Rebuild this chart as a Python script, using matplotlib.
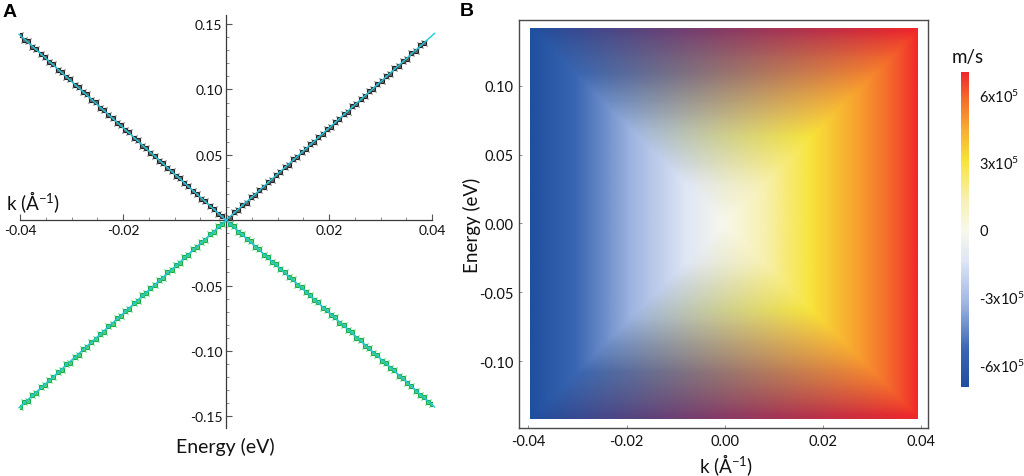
import numpy as np
import matplotlib
matplotlib.use("Agg")
import matplotlib.pyplot as plt
from matplotlib.colors import LinearSegmentedColormap, Normalize
from matplotlib.cm import ScalarMappable
from matplotlib.ticker import MultipleLocator, FuncFormatter, FixedLocator

plt.rcParams['font.family'] = ['Lato', 'DejaVu Sans']
plt.rcParams['mathtext.fontset'] = 'custom'
plt.rcParams['mathtext.rm'] = 'Lato'
plt.rcParams['mathtext.it'] = 'Lato:italic'
plt.rcParams['mathtext.bf'] = 'Lato:bold'

# ---------------- Panel A data (|k| grid in 1/Å, Energy in eV) ----------------
abs_k = [0.0400, 0.0392, 0.0385, 0.0377, 0.0368, 0.0360, 0.0352, 0.0344, 0.0335, 0.0327,
         0.0319, 0.0311, 0.0303, 0.0294, 0.0286, 0.0278, 0.0270, 0.0262, 0.0253, 0.0245,
         0.0237, 0.0229, 0.0220, 0.0212, 0.0204, 0.0196, 0.0188, 0.0179, 0.0171, 0.0163,
         0.0155, 0.0147, 0.0138, 0.0130, 0.0122, 0.0114, 0.0105, 0.0097, 0.0089, 0.0081,
         0.0073, 0.0064, 0.0056, 0.0048, 0.0040, 0.0031, 0.0023, 0.0015, 0.0007]

# upper-left branch (k < 0), black
ul_E = [0.1418, 0.1381, 0.1370, 0.1328, 0.1310, 0.1268, 0.1252, 0.1211, 0.1192, 0.1151,
        0.1136, 0.1094, 0.1079, 0.1035, 0.1019, 0.0978, 0.0962, 0.0921, 0.0902, 0.0861,
        0.0845, 0.0804, 0.0785, 0.0744, 0.0728, 0.0688, 0.0671, 0.0628, 0.0611, 0.0571,
        0.0554, 0.0515, 0.0494, 0.0455, 0.0437, 0.0398, 0.0377, 0.0338, 0.0320, 0.0281,
        0.0263, 0.0221, 0.0203, 0.0165, 0.0146, 0.0105, 0.0086, 0.0049, 0.0030]
# upper-right branch (k > 0), black, starts at |k| = 0.0385
ur_E = [0.1353, 0.1337, 0.1293, 0.1277, 0.1236, 0.1221, 0.1176, 0.1161, 0.1120, 0.1104,
        0.1063, 0.1044, 0.1003, 0.0988, 0.0947, 0.0931, 0.0887, 0.0871, 0.0830, 0.0815,
        0.0771, 0.0755, 0.0714, 0.0698, 0.0657, 0.0638, 0.0597, 0.0582, 0.0541, 0.0525,
        0.0481, 0.0465, 0.0424, 0.0409, 0.0365, 0.0349, 0.0308, 0.0292, 0.0251, 0.0232,
        0.0191, 0.0176, 0.0135, 0.0116, 0.0075, 0.0060, 0.0019]
# lower-left branch (k < 0), green
ll_E = [-0.1431, -0.1393, -0.1381, -0.1339, -0.1320, -0.1278, -0.1264, -0.1221, -0.1203, -0.1160,
        -0.1146, -0.1103, -0.1089, -0.1043, -0.1028, -0.0986, -0.0971, -0.0929, -0.0911, -0.0868,
        -0.0853, -0.0811, -0.0793, -0.0750, -0.0735, -0.0693, -0.0677, -0.0633, -0.0617, -0.0575,
        -0.0560, -0.0518, -0.0499, -0.0458, -0.0442, -0.0400, -0.0381, -0.0340, -0.0324, -0.0283,
        -0.0267, -0.0222, -0.0206, -0.0165, -0.0149, -0.0104, -0.0088, -0.0047, -0.0031]
# lower-right branch (k > 0), green
lr_E = [-0.1409, -0.1390, -0.1353, -0.1337, -0.1305, -0.1265, -0.1249, -0.1208, -0.1189, -0.1148,
        -0.1132, -0.1092, -0.1076, -0.1032, -0.1016, -0.0975, -0.0959, -0.0919, -0.0899, -0.0859,
        -0.0843, -0.0802, -0.0783, -0.0742, -0.0726, -0.0686, -0.0670, -0.0626, -0.0610, -0.0569,
        -0.0553, -0.0513, -0.0493, -0.0453, -0.0437, -0.0396, -0.0377, -0.0336, -0.0320, -0.0280,
        -0.0264, -0.0220, -0.0204, -0.0163, -0.0147, -0.0103, -0.0087, -0.0046, -0.0030]

ul_k = [-k for k in abs_k]
ur_k = abs_k[2:]
ll_k = [-k for k in abs_k]
lr_k = list(abs_k)

# linear fits: (k_start, k_end, slope in eV*Å)
fit_branches = [(-0.0402, 0.0, -3.54), (0.0, 0.0405, 3.53),
                (-0.0402, 0.0, 3.57), (0.0, 0.0405, -3.53)]

# ---------------- Panel B data: group velocity (m/s) along the bands ----------------
vel_k = [-0.0396, -0.0375, -0.035, -0.0325, -0.030, -0.0275, -0.025, -0.0225, -0.020,
         -0.0175, -0.015, -0.0125, -0.010, -0.0075, -0.005, -0.0025, 0.0,
         0.0025, 0.005, 0.0075, 0.010, 0.0125, 0.015, 0.0175, 0.020,
         0.0225, 0.025, 0.0275, 0.030, 0.0325, 0.035, 0.0375, 0.0392]
vel_v = [-7.0e5, -6.6e5, -6.15e5, -5.7e5, -5.25e5, -4.8e5, -4.4e5, -3.95e5, -3.5e5,
         -3.05e5, -2.6e5, -2.2e5, -1.75e5, -1.3e5, -0.88e5, -0.44e5, 0.0,
         0.44e5, 0.88e5, 1.3e5, 1.75e5, 2.2e5, 2.6e5, 3.05e5, 3.5e5,
         3.95e5, 4.4e5, 4.8e5, 5.25e5, 5.7e5, 6.15e5, 6.6e5, 7.0e5]
band_slope_B = 3.57
map_E_top = 0.1416
map_E_bot = -0.1418
cbar_ticks = [-6e5, -3e5, 0, 3e5, 6e5]
cbar_labels = ['-6x10$^5$', '-3x10$^5$', '0', '3x10$^5$', '6x10$^5$']

cmap_nodes = [0.0, 0.12, 0.26, 0.40, 0.50, 0.60, 0.72, 0.82, 0.92, 1.0]
cmap_cols = ['#1f4f9f', '#3a66b2', '#9db3e0', '#dfe6f5', '#f8f8ec', '#f7f0b0',
             '#f7e43a', '#f8ac30', '#f46a2c', '#f0282a']
cmap = LinearSegmentedColormap.from_list('vel', list(zip(cmap_nodes, cmap_cols)))
norm = Normalize(vmin=-7e5, vmax=7e5)

W, H = 1024, 477
fig = plt.figure(figsize=(W / 100, H / 100), dpi=100)


def ax_rect(l, t, r, b):
    return [l / W, 1 - b / H, (r - l) / W, (b - t) / H]


# ================= Panel A =================
axA = fig.add_axes(ax_rect(20, 16, 432, 429))
axA.set_xlim(-0.04, 0.04)
axA.set_ylim(-0.159, 0.157)
for s in ['top', 'right']:
    axA.spines[s].set_visible(False)
axA.spines['left'].set_position(('data', 0))
axA.spines['bottom'].set_position(('data', 0))
for s in ['left', 'bottom']:
    axA.spines[s].set_color('#3a3a3a')
    axA.spines[s].set_linewidth(0.9)
axA.xaxis.set_major_locator(MultipleLocator(0.02))
axA.xaxis.set_minor_locator(MultipleLocator(0.005))
axA.yaxis.set_major_locator(MultipleLocator(0.05))
axA.yaxis.set_minor_locator(MultipleLocator(0.01))
fmt = FuncFormatter(lambda v, p: '' if abs(v) < 1e-9 else ('%.2f' % v))
axA.xaxis.set_major_formatter(fmt)
axA.yaxis.set_major_formatter(fmt)
axA.tick_params(which='major', direction='in', length=4, width=0.8, color='#555',
                labelsize=10, labelcolor='#111', pad=2.5)
axA.tick_params(which='minor', direction='in', length=2.5, width=0.6, color='#777')

for kk, ee in [(ul_k, ul_E), (ur_k, ur_E)]:
    axA.plot(kk, ee, linestyle='none', marker='s', ms=3.4, mfc='#8a8a8a', mec='#1a1a1a', mew=0.8, zorder=3)
    axA.plot(kk, ee, linestyle='none', marker='x', ms=4.6, mec='#555555', mew=0.7, zorder=3)
for kk, ee in [(ll_k, ll_E), (lr_k, lr_E)]:
    axA.plot(kk, ee, linestyle='none', marker='s', ms=3.4, mfc='#8fe0a0', mec='#14a449', mew=0.8, zorder=3)
    axA.plot(kk, ee, linestyle='none', marker='x', ms=4.6, mec='#3cc864', mew=0.7, zorder=3)
for k0, k1, sl in fit_branches:
    kx = np.array([k0, k1])
    axA.plot(kx, sl * kx, color='#1fc6dc', lw=1.0, zorder=4, clip_on=False)

fig.text(6 / W, 1 - 201.7 / H, 'k (Å$^{-1}$)', ha='left', va='center', fontsize=13.5, color='#111')
fig.text(225.7 / W, 1 - 446.7 / H, 'Energy (eV)', ha='center', va='center', fontsize=14, color='#111')
fig.text(9.5 / W, 1 - 12.5 / H, 'A', ha='center', va='center', fontsize=14,
         fontweight='bold', family=['Liberation Sans', 'DejaVu Sans'])

# ================= Panel B =================
axB = fig.add_axes(ax_rect(519.3, 21.2, 928.1, 429))
axB.set_xlim(-0.04183, 0.04136)
axB.set_ylim(-0.1485, 0.1475)

# Velocity map: inside the Dirac-cone sides the colour follows v(k); between the
# upper (lower) band branches the colour is blended linearly across k between the
# band colours at the same energy (as a triangulated density plot renders it).
kg = np.linspace(vel_k[0], vel_k[-1], 500)
eg = np.linspace(map_E_bot, map_E_top, 500)
KK, EE = np.meshgrid(kg, eg)
col_side = cmap(norm(np.interp(KK, vel_k, vel_v)))[..., :3]
kb = np.abs(EE) / band_slope_B
col_l = cmap(norm(np.interp(-kb, vel_k, vel_v)))[..., :3]
col_r = cmap(norm(np.interp(kb, vel_k, vel_v)))[..., :3]
t = np.clip((KK + kb) / np.maximum(2 * kb, 1e-12), 0, 1)[..., None]
col_cap = (1 - t) * col_l + t * col_r
inside = (np.abs(EE) <= band_slope_B * np.abs(KK))[..., None]
rgb = np.where(inside, col_side, col_cap)
axB.imshow(rgb, extent=[vel_k[0], vel_k[-1], map_E_bot, map_E_top], origin='lower',
           aspect='auto', interpolation='bilinear', zorder=1)
axB.set_xlim(-0.04183, 0.04136)
axB.set_ylim(-0.1485, 0.1475)

for s in axB.spines.values():
    s.set_color('#4a4a4a')
    s.set_linewidth(1.0)
axB.xaxis.set_major_locator(FixedLocator([-0.04, -0.02, 0.0, 0.02, 0.04]))
axB.yaxis.set_major_locator(FixedLocator([-0.10, -0.05, 0.0, 0.05, 0.10]))
axB.xaxis.set_major_formatter(FuncFormatter(lambda v, p: '%.2f' % v if abs(v) > 1e-9 else '0.00'))
axB.yaxis.set_major_formatter(FuncFormatter(lambda v, p: '%.2f' % v if abs(v) > 1e-9 else '0.00'))
axB.tick_params(direction='in', length=2.5, width=0.6, color='#777', labelsize=10.5,
                labelcolor='#111', pad=4)

fig.text(471.7 / W, 1 - 225.8 / H, 'Energy (eV)', rotation=90, ha='center', va='center',
         fontsize=13.5, color='#111')
fig.text(726 / W, 1 - 465 / H, 'k (Å$^{-1}$)', ha='center', va='center', fontsize=13.5, color='#111')
fig.text(467 / W, 1 - 11 / H, 'B', ha='center', va='center', fontsize=14,
         fontweight='bold', family=['Liberation Sans', 'DejaVu Sans'])

# colorbar
cax = fig.add_axes(ax_rect(960.7, 73.3, 969.3, 388.3))
sm = ScalarMappable(norm=norm, cmap=cmap)
cb = fig.colorbar(sm, cax=cax, ticks=cbar_ticks)
cb.ax.set_yticklabels(cbar_labels)
cb.outline.set_visible(False)
cb.ax.tick_params(length=0, labelsize=10.5, labelcolor='#111', pad=7)
fig.text(968 / W, 1 - 58 / H, 'm/s', ha='center', va='center', fontsize=13.5, color='#111')

fig.savefig('out.png', dpi=100)
